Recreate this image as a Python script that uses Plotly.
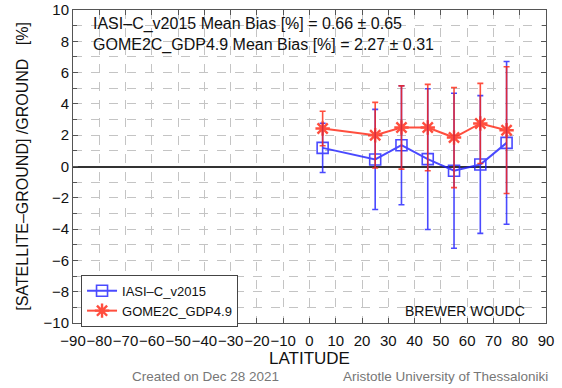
import plotly.graph_objects as go

# Latitude band centres (degrees)
latitude = [5, 25, 35, 45, 55, 65, 75]

# IASI-C v2015 relative bias vs. ground and its spread (%)
iasi_bias = [1.19, 0.45, 1.36, 0.47, -0.27, 0.13, 1.51]
iasi_err = [1.57, 3.2, 3.8, 4.5, 4.95, 4.4, 5.2]

# GOME2C GDP4.9 relative bias vs. ground and its spread (%)
gome_bias = [2.43, 2.0, 2.49, 2.49, 1.85, 2.75, 2.32]
gome_err = [1.1, 2.1, 2.66, 2.76, 3.2, 2.56, 4.05]

x_ticks = list(range(-90, 91, 10))
y_ticks = list(range(-10, 11, 2))

FONT = "Liberation Sans, Arial, sans-serif"
BLUE = "rgb(30,30,255)"
RED = "rgb(255,35,15)"

fig = go.Figure()

fig.add_trace(go.Scatter(
    x=latitude, y=iasi_bias, name="IASI–C_v2015", mode="lines+markers",
    line=dict(color=BLUE, width=2),
    marker=dict(symbol="square-open", size=11, color=BLUE, line=dict(width=1.6)),
    error_y=dict(type="data", array=iasi_err, visible=True, color=BLUE,
                 thickness=1.6, width=3),
    opacity=0.8,
))
fig.add_trace(go.Scatter(
    x=latitude, y=gome_bias, name="GOME2C_GDP4.9", mode="lines+markers",
    line=dict(color=RED, width=2),
    marker=dict(symbol="asterisk-open", size=12, color=RED, line=dict(width=2.4, color=RED)),
    error_y=dict(type="data", array=gome_err, visible=True, color=RED,
                 thickness=1.6, width=3),
    opacity=0.8,
))

axis_common = dict(
    showline=True, linecolor="#555", linewidth=1, mirror="ticks",
    ticks="inside", ticklen=5, tickcolor="#555",
    showgrid=True, gridcolor="#c4c4c4", griddash="dash", gridwidth=1,
    automargin=False,
)

fig.update_xaxes(
    range=[-90, 90], tickmode="array", tickvals=x_ticks,
    ticktext=[str(v).replace("-", "−") for v in x_ticks],
    tickangle=0, tickfont=dict(family=FONT, size=15, color="#111"),
    ticklabelstandoff=4,
    zeroline=False,
    title=dict(text="LATITUDE", font=dict(family=FONT, size=17, color="#111"), standoff=2),
    **axis_common,
)
fig.update_yaxes(
    range=[-10, 10], tickmode="array", tickvals=y_ticks,
    ticktext=[str(v).replace("-", "−") for v in y_ticks],
    tickfont=dict(family=FONT, size=15, color="#111"),
    zeroline=True, zerolinecolor="#333", zerolinewidth=2,
    minor=dict(dtick=1, tick0=0, ticks="inside", ticklen=4, tickcolor="#555",
               showgrid=True, gridcolor="#c4c4c4", griddash="dash"),
    title=dict(text="[SATELLITE–GROUND] /GROUND   [%]",
               font=dict(family=FONT, size=16, color="#111"), standoff=10),
    **axis_common,
)

fig.add_annotation(xref="paper", yref="paper", x=0.038, y=0.954, xanchor="left",
                   yanchor="middle", showarrow=False,
                   text="IASI–C_v2015 Mean Bias [%] = 0.66 ± 0.65",
                   font=dict(family=FONT, size=16, color="#111"))
fig.add_annotation(xref="paper", yref="paper", x=0.038, y=0.887, xanchor="left",
                   yanchor="middle", showarrow=False,
                   text="GOME2C_GDP4.9 Mean Bias [%] = 2.27 ± 0.31",
                   font=dict(family=FONT, size=16, color="#111"))
fig.add_annotation(xref="paper", yref="paper", x=0.96, y=0.039, xanchor="right",
                   yanchor="middle", showarrow=False, text="BREWER WOUDC",
                   font=dict(family=FONT, size=14, color="#111"))
fig.add_annotation(xref="paper", yref="paper", x=0.28, y=-0.17, xanchor="center",
                   yanchor="middle", showarrow=False,
                   text="Created on Dec 28 2021",
                   font=dict(family=FONT, size=13.5, color="#777"))
fig.add_annotation(xref="paper", yref="paper", x=0.788, y=-0.17, xanchor="center",
                   yanchor="middle", showarrow=False,
                   text="Aristotle University of Thessaloniki",
                   font=dict(family=FONT, size=13.5, color="#777"))

fig.update_layout(
    width=562, height=388,
    margin=dict(l=73, r=16, t=10, b=65),
    paper_bgcolor="white", plot_bgcolor="white",
    showlegend=True,
    legend=dict(x=0.017, y=0.154, xanchor="left", yanchor="top",
                bgcolor="white", bordercolor="#444", borderwidth=1,
                font=dict(family=FONT, size=13, color="#111"),
                itemwidth=30, tracegroupgap=0),
)

fig.write_html("out.html")
